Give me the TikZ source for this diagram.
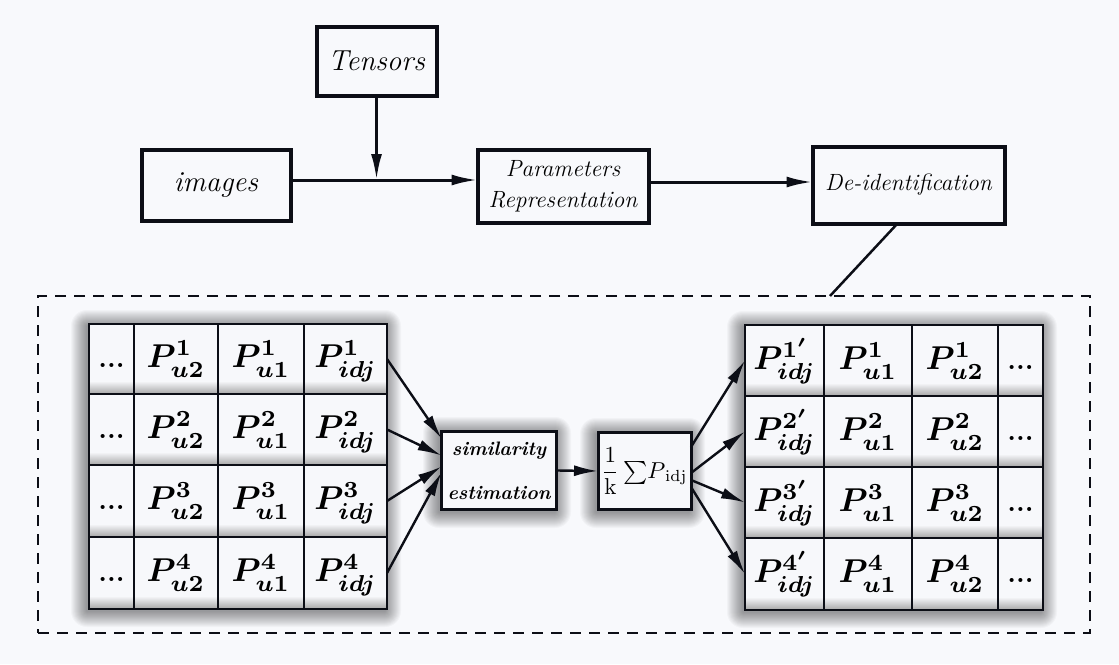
\documentclass[tikz,border=0pt]{standalone}
\usepackage{graphicx}
\usetikzlibrary{arrows.meta,calc}
\definecolor{bgc}{RGB}{248,249,252}
\definecolor{ink}{RGB}{12,14,22}
\definecolor{cellc}{RGB}{247,248,251}
\newcommand{\bigP}[2]{\scalebox{3.3}{\boldmath$P^{#1}_{#2}$}}
\newcommand{\softshade}[4]{%
  \foreach \k in {1,...,16}{
    \fill[black,opacity=0.026,rounded corners={\k pt}] ({#1-2-\k},{#2+2-\k}) rectangle ({#3-2+\k},{#4+2+\k});
  }}
\tikzset{
  topbox/.style={draw=ink,line width=4pt,fill=bgc,inner sep=0pt,outer sep=0pt,align=center},
  midbox/.style={draw=ink,line width=3pt,fill=cellc,inner sep=0pt,outer sep=0pt,align=center},
  cell/.style={draw=ink,line width=2.5pt,inner sep=0pt,outer sep=0pt,text height=25pt,text depth=8pt},
  dots/.style={font=\bfseries\fontsize{28}{28}\selectfont},
  cellshade/.style={top color=cellc,bottom color=black!35},
  arr/.style={draw=ink,line width=3pt,-{Latex[length=26pt,width=11pt]}},
  sarr/.style={draw=ink,line width=2.4pt,-{Latex[length=24pt,width=11pt]}},
  grp/.style={draw=ink,line width=2.5pt,dash pattern=on 11pt off 8pt,inner sep=0pt,outer sep=0pt}
}
\begin{document}
\begin{tikzpicture}[x=1pt,y=-1pt]
\fill[bgc] (0,0) rectangle (1119,664);
\useasboundingbox (0,0) rectangle (1119,664);

% top row
\node[topbox,minimum width=120pt,minimum height=69pt,font=\itshape\fontsize{29}{30}\selectfont] (tens) at (376.5,61) {Tensors};
\node[topbox,minimum width=149pt,minimum height=71pt,font=\itshape\fontsize{29}{30}\selectfont] (img) at (216,185) {images};
\node[topbox,minimum width=171pt,minimum height=73pt,font=\itshape\fontsize{23.5}{31}\selectfont] (par) at (563,186) {Parameters\\Representation};
\node[topbox,minimum width=192pt,minimum height=77pt,font=\itshape\fontsize{23.5}{30}\selectfont] (deid) at (908.5,185) {De-identification};
\coordinate (j) at (376.5,180);
\draw[arr] (img.east |- j) -- (par.west |- j);
\draw[arr] (tens.south) -- (j);
\draw[arr] ([yshift=4pt]par.east) -- ([yshift=4pt]par.east -| deid.west);

% dashed group
\node[grp,minimum width=1052pt,minimum height=337pt] (group) at (564,464.5) {};
\draw[ink,line width=2.5pt] ([xshift=-11pt]deid.south) -- ([xshift=266pt]group.north);

% shadows
\softshade{89}{324}{387}{609}
\softshade{745}{325}{1043}{610}
\softshade{441}{431}{557}{510}
\softshade{598}{432}{691}{510}

% left table
\fill[cellc] (89,324) rectangle (387,609);
\foreach \r/\ya/\yb in {1/324/394,2/394/465,3/465/537,4/537/609}{
  \foreach \xa/\xb in {89/134,134/218,218/304,304/387}{
    \shade[cellshade] (\xa,\yb-13) rectangle (\xb,\yb);
  }
  \node[cell,dots,minimum width=45pt,minimum height={\yb-\ya}] (L\r1) at (111.5,{(\ya+\yb)/2}) {...};
  \node[cell,minimum width=84pt,minimum height={\yb-\ya}] (L\r2) at (176,{(\ya+\yb)/2}) {\bigP{\r}{u2}};
  \node[cell,minimum width=86pt,minimum height={\yb-\ya}] (L\r3) at (261,{(\ya+\yb)/2}) {\bigP{\r}{u1}};
  \node[cell,minimum width=83pt,minimum height={\yb-\ya}] (L\r4) at (345.5,{(\ya+\yb)/2}) {\bigP{\r}{idj}};
}

% right table
\fill[cellc] (745,325) rectangle (1043,610);
\foreach \r/\ya/\yb in {1/325/396,2/396/467,3/467/538,4/538/610}{
  \foreach \xa/\xb in {745/824,824/912,912/998,998/1043}{
    \shade[cellshade] (\xa,\yb-13) rectangle (\xb,\yb);
  }
  \node[cell,minimum width=79pt,minimum height={\yb-\ya}] (R\r1) at (784.5,{(\ya+\yb)/2}) {\bigP{\r'}{idj}};
  \node[cell,minimum width=88pt,minimum height={\yb-\ya}] (R\r2) at (868,{(\ya+\yb)/2}) {\bigP{\r}{u1}};
  \node[cell,minimum width=86pt,minimum height={\yb-\ya}] (R\r3) at (955,{(\ya+\yb)/2}) {\bigP{\r}{u2}};
  \node[cell,dots,minimum width=45pt,minimum height={\yb-\ya}] (R\r4) at (1020.5,{(\ya+\yb)/2}) {...};
}

% middle boxes
\node[midbox,minimum width=115pt,minimum height=78pt,font=\bfseries\itshape\fontsize{19.5}{44}\selectfont] (sim) at (499,470.5) {similarity\\estimation};
\node[midbox,minimum width=93pt,minimum height=77pt] (frm) at (644.5,471) {\scalebox{2.3}{$\displaystyle\frac{1}{\mathrm{k}}\textstyle\sum\! P_{\,\mathrm{idj}}$}};

\draw[sarr] (sim.east) -- (frm.west);
\draw[sarr] (L14.east) -- ($(sim.west)+(0,-32)$);
\draw[sarr] (L24.east) -- ($(sim.west)+(0,-15)$);
\draw[sarr] (L34.east) -- ($(sim.west)+(0,-4)$);
\draw[sarr] (L44.east) -- ($(sim.west)+(0,2)$);
\draw[sarr] ($(frm.east)+(0,-24)$) -- (R11.west);
\draw[sarr] ($(frm.east)+(0,2)$) -- (R21.west);
\draw[sarr] ($(frm.east)+(0,9)$) -- (R31.west);
\draw[sarr] ($(frm.east)+(0,16)$) -- (R41.west);
\end{tikzpicture}
\end{document}
